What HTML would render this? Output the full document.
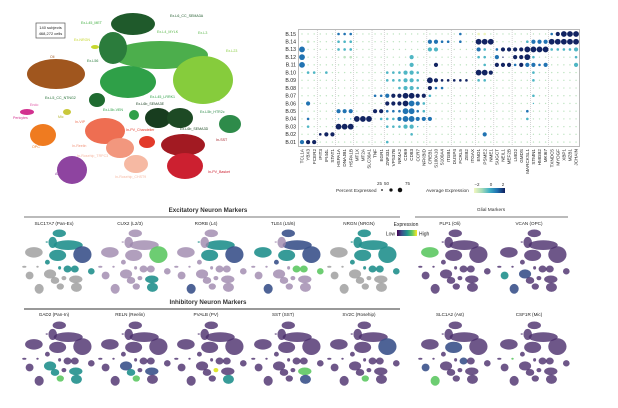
<!DOCTYPE html>
<html><head><meta charset="utf-8">
<style>
body{margin:0;background:#fff;font-family:"Liberation Sans",sans-serif;}
#wrap{position:relative;width:618px;height:408px;overflow:hidden;}
svg{position:absolute;left:0;top:0;}
</style></head>
<body>
<div id="wrap">
<svg id="fig" width="618" height="408" viewBox="0 0 618 408"></svg>
</div>
<script>
// ---------- dot plot data ----------
const genes=["TCL1A","YBX3","FCER2","IFIT3","IFI44L","STAT1","HSPA1A","DNAJB1","HSPA1B","MT1X","MT2A","SLC30A1","TNF","EGR1","ZNF331","VPS37B","NR4A2","CD69","CD83","CCR7","NFKBID","CREB1","S100A10","S100A4","ITGB1","DUSP4","FCRL5","ZEB2","ITGAX","ENO1","PSME2","NME1","SUGCT","NEIL1","MEF2B","LMO2","GMDS","MARCKSL1","STMN1","HMGB2","MKI67","TXNDC5","MYDGF","XBP1","MZB1","JCHAIN"];
const clusters=["B.15","B.14","B.13","B.12","B.11","B.10","B.09","B.08","B.07","B.06","B.05","B.04","B.03","B.02","B.01"];
const pctRows=[
"1111112221"+"1111111111"+"1111112112"+"2111111111"+"123444",
"1211112221"+"1111111111"+"1332212114"+"4411111233"+"344444",
"4111112221"+"1111111111"+"1331111113"+"2123333444"+"422223",
"4111111221"+"1111111131"+"1111111112"+"2131133421"+"111112",
"4111111111"+"1111111131"+"1131111111"+"2133323332"+"311113",
"1221211111"+"1111222332"+"1111111114"+"4311111121"+"111111",
"1111111111"+"1111222332"+"1432222212"+"2111111121"+"111111",
"1111111111"+"1111112332"+"1322111111"+"1111111111"+"111111",
"1111111111"+"1122333443"+"3211111111"+"1111111121"+"111111",
"1311111111"+"1111333443"+"2111111111"+"1111111111"+"111111",
"1111113331"+"1133222442"+"2111111111"+"1111111211"+"111111",
"1211111114"+"4412223443"+"3311111111"+"1111111211"+"111111",
"1211114441"+"1111222331"+"1111111111"+"1111111111"+"111111",
"1112331111"+"1111111121"+"1111111111"+"3111111111"+"111111",
"3331111111"+"1111211111"+"1111111111"+"1111111111"+"111111"];
const exprRows=[
"1111113331"+"1111111111"+"1111113110"+"0111111111"+"134444",
"1111112221"+"1111111111"+"1333313114"+"4411111233"+"344444",
"3111112221"+"1111111111"+"1221111113"+"2134444444"+"422222",
"3111111111"+"1111111121"+"1111111112"+"2134144421"+"111112",
"3111111111"+"1111111121"+"1141111111"+"2144434333"+"311112",
"1221211111"+"1111222222"+"1111111114"+"4411111121"+"111111",
"1111111111"+"1111222222"+"1444444412"+"2111111121"+"111111",
"1111111111"+"1111112222"+"1433111111"+"1111111111"+"111111",
"1111111111"+"1133344444"+"4211111111"+"1111111121"+"111111",
"1311111111"+"1111444433"+"2111111111"+"1111111121"+"111111",
"1111113331"+"1144333333"+"2111111111"+"1111111311"+"111111",
"1311112224"+"4412223333"+"3311111111"+"1111111211"+"111111",
"1211114441"+"1111222222"+"1111111111"+"1111111111"+"111111",
"1114441111"+"1111111121"+"1111111111"+"3111111111"+"111111",
"3441111111"+"1111211111"+"1111111111"+"1111111111"+"111111"];
const groupBreaks=[2,5,8,11,13,20,24,28,31,34,37,40];

// ---------- UMAP clusters ----------
const umap=[
["L6CC","Ex-L6_CC_SEMA3A",133,24,22,11,"#1f5a2b"],
["L34","Ex-L3",160,55,48,14,"#4cae4c"],
["L23","Ex-L23",203,80,30,24,"#86cc3c"],
["L45MET","Ex-L45_MET",113,48,14,16,"#2b7c3c"],
["LRRK1","Ex-L45_LRRK1",128,82,28,16,"#2fa048"],
["Oli","Oli",56,74,29,15,"#a0561e"],
["NTNG2","Ex-L5_CC_NTNG2",97,100,8,7,"#1f6b30"],
["Endo","Endo",27,112,7,3,"#d2318f"],
["Mic","Mic",67,112,4,3,"#c9c83a"],
["NRGN","Ex-NRGN",95,47,4,2,"#c7d830"],
["VEN","Ex-L5b-VEN",134,115,5,5,"#2ea048"],
["L6b1","Ex-L6b_SEMA3E",158,118,13,10,"#183d1f"],
["L6b2","Ex-L6b_SEMA3D",180,118,13,10,"#1d4a24"],
["HTR2c","Ex-L5b_HTR2c",230,124,11,9,"#2e8b4a"],
["OPC","OPC",43,135,13,11,"#ef7b20"],
["VIP","In-VIP",105,131,20,13,"#ee6e52"],
["Reelin","In-Reelin",120,148,14,10,"#f2977e"],
["Rosehip","In-Rosehip",136,164,12,9,"#f6b9a3"],
["Chand","In-PV_Chandelier",147,142,8,6,"#e23a2a"],
["SST","In-SST",183,145,22,11,"#a21a22"],
["Basket","In-PV_Basket",185,166,18,13,"#cc2030"],
["Ast","Ast",72,170,15,14,"#8e44a0"]];
const umapLabels=[
["Ex-L6_CC_SEMA3A",170,17,"#1f5a2b"],["Ex-L45_MET",81,24,"#3fae3f"],["Ex-L4_MYLK",157,33,"#5cb84c"],["Ex-L3",198,34,"#5cb84c"],["Ex-L23",226,52,"#86cc3c"],
["Ex-NRGN",74,41,"#c7d830"],["Ex-L56",87,62,"#2b7c3c"],["Oli",50,58,"#a0561e"],["Ex-L45_LRRK1",150,98,"#2fa048"],["Ex-L2",211,101,"#86cc3c"],
["Ex-L5_CC_NTNG2",45,99,"#1f6b30"],["Ex-L5b-VEN",103,111,"#2ea048"],["Ex-L6b_SEMA3E",136,105,"#183d1f"],["Ex-L5b_HTR2c",200,113,"#2e8b4a"],["Ex-L6b_SEMA3D",180,130,"#1d4a24"],
["Endo",30,106,"#e05aa8"],["Pericytes",13,119,"#d2318f"],["Mic",58,118,"#b5b530"],["In-VIP",75,123,"#ee6e52"],["In-PV_Chandelier",126,131,"#e23a2a"],
["OPC",32,148,"#ef7b20"],["In-Reelin",72,147,"#f2977e"],["In-SST",216,141,"#a21a22"],["In-Rosehip_TRPC3",77,157,"#f6b9a3"],["In-PV_Basket",208,173,"#cc2030"],
["Ast",55,175,"#8e44a0"],["In-Rosehip_CHST9",115,178,"#f6b9a3"]];

// ---------- feature panels ----------
const panelTitles=["SLC17A7 (Pan-Ex)","CUX2 (L2/3)","RORB (L4)","TLE4 (L5/6)","NRGN (NRGN)","PLP1 (Oli)","VCAN (OPC)","GAD2 (Pan-In)","RELN (Reelin)","PVALB (PV)","SST (SST)","SV2C (Rosehip)","SLC1A2 (Ast)","CSF1R (Mic)"];
const panelCx=[54,130,206,283,359,450,529,54,130,206,283,359,450,529];
const panelRow=[0,0,0,0,0,0,0,1,1,1,1,1,1,1];
const EX="L6CC L45MET L34 L23 LRRK1 NTNG2 NRGN VEN L6b1 L6b2 HTR2c";
const IN="VIP Reelin Rosehip Chand SST Basket";
const panelBase=["g","p","p","p","g","d","d","d","d","d","d","d","d","d"];
const panelHigh=[
EX.split(" ").map(k=>k+":2").join(" ")+" L23:1",
"L23:3 SST:2 Basket:2",
"L34:2 LRRK1:2 L23:1 NRGN:2 Ast:1",
"LRRK1:2 Oli:2 L6CC:1 L34:1 L23:1 L6b1:3 L6b2:3 HTR2c:3 NTNG2:1 Ast:1",
EX.split(" ").map(k=>k+":2").join(" "),
"Oli:3",
"OPC:2 Ast:1 VIP:1",
"VIP:2 Reelin:2 Rosehip:3 SST:2 Basket:2",
"VIP:1 Reelin:2 Rosehip:3 SST:1",
"Basket:2 Chand:4",
"SST:3 Basket:1",
"Rosehip:3 L23:1",
"Ast:3 OPC:1 LRRK1:1 L6b1:1",
"Mic:3"];

const NS="http://www.w3.org/2000/svg";
const svg=document.getElementById('fig');
function mk(tag,attrs,parent){const e=document.createElementNS(NS,tag);for(const k in attrs)e.setAttribute(k,attrs[k]);(parent||svg).appendChild(e);return e;}

// ---- UMAP ----
const gU=mk('g',{});


umap.forEach(c=>{
  const e=mk('ellipse',{cx:c[2],cy:c[3],rx:c[4],ry:c[5],fill:c[6]},gU);
  
  
});
umapLabels.forEach(l=>{
  const t=mk('text',{x:l[1],y:l[2],fill:l[3],'font-size':'3.6','font-family':'Liberation Sans, sans-serif'},gU);
  t.textContent=l[0];
  
  
});
const box=mk('rect',{x:36,y:23,width:29,height:15,fill:'#fff',stroke:'#555','stroke-width':0.7});


[["140 subjects",29],["468,272 cells",35]].forEach(s=>{const t=mk('text',{x:50.5,y:s[1],'text-anchor':'middle','font-size':'4','fill':'#222'});t.textContent=s[0];

});

// ---- dot plot ----
const x0=302,dx=6.09,y0=34,dy=7.72;
const xPos=i=>x0+i*dx, yPos=r=>y0+r*dy;
const colors=["#eef5bd","#bfe4c2","#4fb6c4","#2173b2","#122462"];
const radii=[0,0.7,1.3,2.1,2.9];
const gD=mk('g',{});


const frame=mk('rect',{x:298.5,y:29.5,width:281,height:117,fill:'#fff',stroke:'#aaa','stroke-width':0.8},gD);


groupBreaks.forEach(b=>{const l=mk('line',{x1:(xPos(b)+xPos(b+1))/2,x2:(xPos(b)+xPos(b+1))/2,y1:30,y2:146,stroke:'#aaa','stroke-width':0.5,'stroke-dasharray':'1,1'},gD);

});
clusters.forEach((c,r)=>{
  const t=mk('text',{x:296,y:yPos(r)+1.8,'text-anchor':'end','font-size':'5.2',fill:'#222'},gD);t.textContent=c;
  
  
  for(let i=0;i<genes.length;i++){
    const p=+pctRows[r][i], e=+exprRows[r][i];
    if(!p)continue;
    const d=mk('circle',{cx:xPos(i),cy:yPos(r),r:radii[p],fill:colors[e]},gD);
    
    
  }
});
genes.forEach((g,i)=>{
  const t=mk('text',{x:0,y:0,transform:`translate(${xPos(i)+1.6},149) rotate(-90)`,'text-anchor':'end','font-size':'4.6',fill:'#222'},gD);t.textContent=g;
  
  
});
// legends
const lg=mk('g',{});


[["25",378],["50",385],["75",406]].forEach(a=>{const t=mk('text',{x:a[1]-1,y:185,'font-size':'4.5',fill:'#333'},lg);t.textContent=a[0];});
[[388,1],[397,2.2],[406,3.2]].forEach(a=>mk('circle',{cx:a[0]-6,cy:190,r:a[1]*0.6+0.3,fill:'#111'},lg));
let t1=mk('text',{x:336,y:192,'font-size':'4.8',fill:'#333'},lg);t1.textContent="Percent Expressed";
let t2=mk('text',{x:426,y:192,'font-size':'4.8',fill:'#333'},lg);t2.textContent="Average Expression";
const grad=mk('linearGradient',{id:'ae'},mk('defs',{}));
["#f3f7c0","#a8dcb8","#40b0c4","#1e70b0","#0f1e5c"].forEach((c,i)=>mk('stop',{offset:i*25+'%','stop-color':c},grad));
mk('rect',{x:474,y:188,width:31,height:5,fill:'url(#ae)'},lg);
[["−2",477],["0",491],["2",503]].forEach(a=>{const t=mk('text',{x:a[1],y:186,'font-size':'4.5',fill:'#333','text-anchor':'middle'},lg);t.textContent=a[0];});

// ---- feature panels ----
const vir=["#4a2d6c","#3b528b","#21908d","#5dc863","#dce319"];
const lightP="#9d87ad", grayC="#9a9a9a";
[["Excitatory Neuron Markers",208,212,24,400,217],["Glial Markers",491,211,415,568,217],["Inhibitory Neuron Markers",208,304,24,400,309]].forEach(h=>{
  const t=mk('text',{x:h[1],y:h[2],'text-anchor':'middle','font-size':h[0]=="Glial Markers"?'4.8':'6.2','font-weight':h[0]=="Glial Markers"?'normal':'bold',fill:'#333'});t.textContent=h[0];
  
  
  const l=mk('line',{x1:h[3],x2:h[4],y1:h[5],y2:h[5],stroke:h[0]=="Inhibitory Neuron Markers"?'#333':'#777','stroke-width':1.1});
  
  
});
const exSet=new Set(EX.split(" ")), inSet=new Set(IN.split(" "));
panelTitles.forEach((title,p)=>{
  const cx=panelCx[p], top=panelRow[p]?320:228;
  const g=mk('g',{});
  
  
  const t=mk('text',{x:cx,y:panelRow[p]?316:225,'text-anchor':'middle','font-size':'4.6',fill:'#222'},g);t.textContent=title;
  const hi={};panelHigh[p].split(" ").forEach(s=>{const [k,v]=s.split(":");hi[k]=+v;});
  const sx=0.33, sy=0.38, ox=cx-36+4, oy=top;
  umap.forEach(c=>{
    let col, op=0.8;
    if(hi[c[0]]!==undefined){ col=vir[hi[c[0]]]; op=0.9; }
    else if(panelBase[p]=="g") col=exSet.has(c[0])?vir[2]:grayC;
    else if(panelBase[p]=="p") col=lightP;
    else col=vir[0];
    mk('ellipse',{cx:ox+(c[2]-20)*sx,cy:oy+(c[3]-10)*sy,rx:c[4]*sx*0.92,ry:c[5]*sy*0.92,fill:col,opacity:op},g);
  });
});
// expression legend
const eg=mk('g',{});


const vg=mk('linearGradient',{id:'vg'},mk('defs',{}));
["#440154","#3b528b","#21908d","#5dc863","#fde725"].forEach((c,i)=>mk('stop',{offset:i*25+'%','stop-color':c},vg));
mk('rect',{x:397,y:230,width:20,height:6,fill:'url(#vg)'},eg);
let e1=mk('text',{x:406,y:226,'text-anchor':'middle','font-size':'5',fill:'#222'},eg);e1.textContent="Expression";
let e2=mk('text',{x:395,y:235.5,'text-anchor':'end','font-size':'5',fill:'#222'},eg);e2.textContent="Low";
let e3=mk('text',{x:419,y:235.5,'font-size':'5',fill:'#222'},eg);e3.textContent="High";
</script>
</body></html>
